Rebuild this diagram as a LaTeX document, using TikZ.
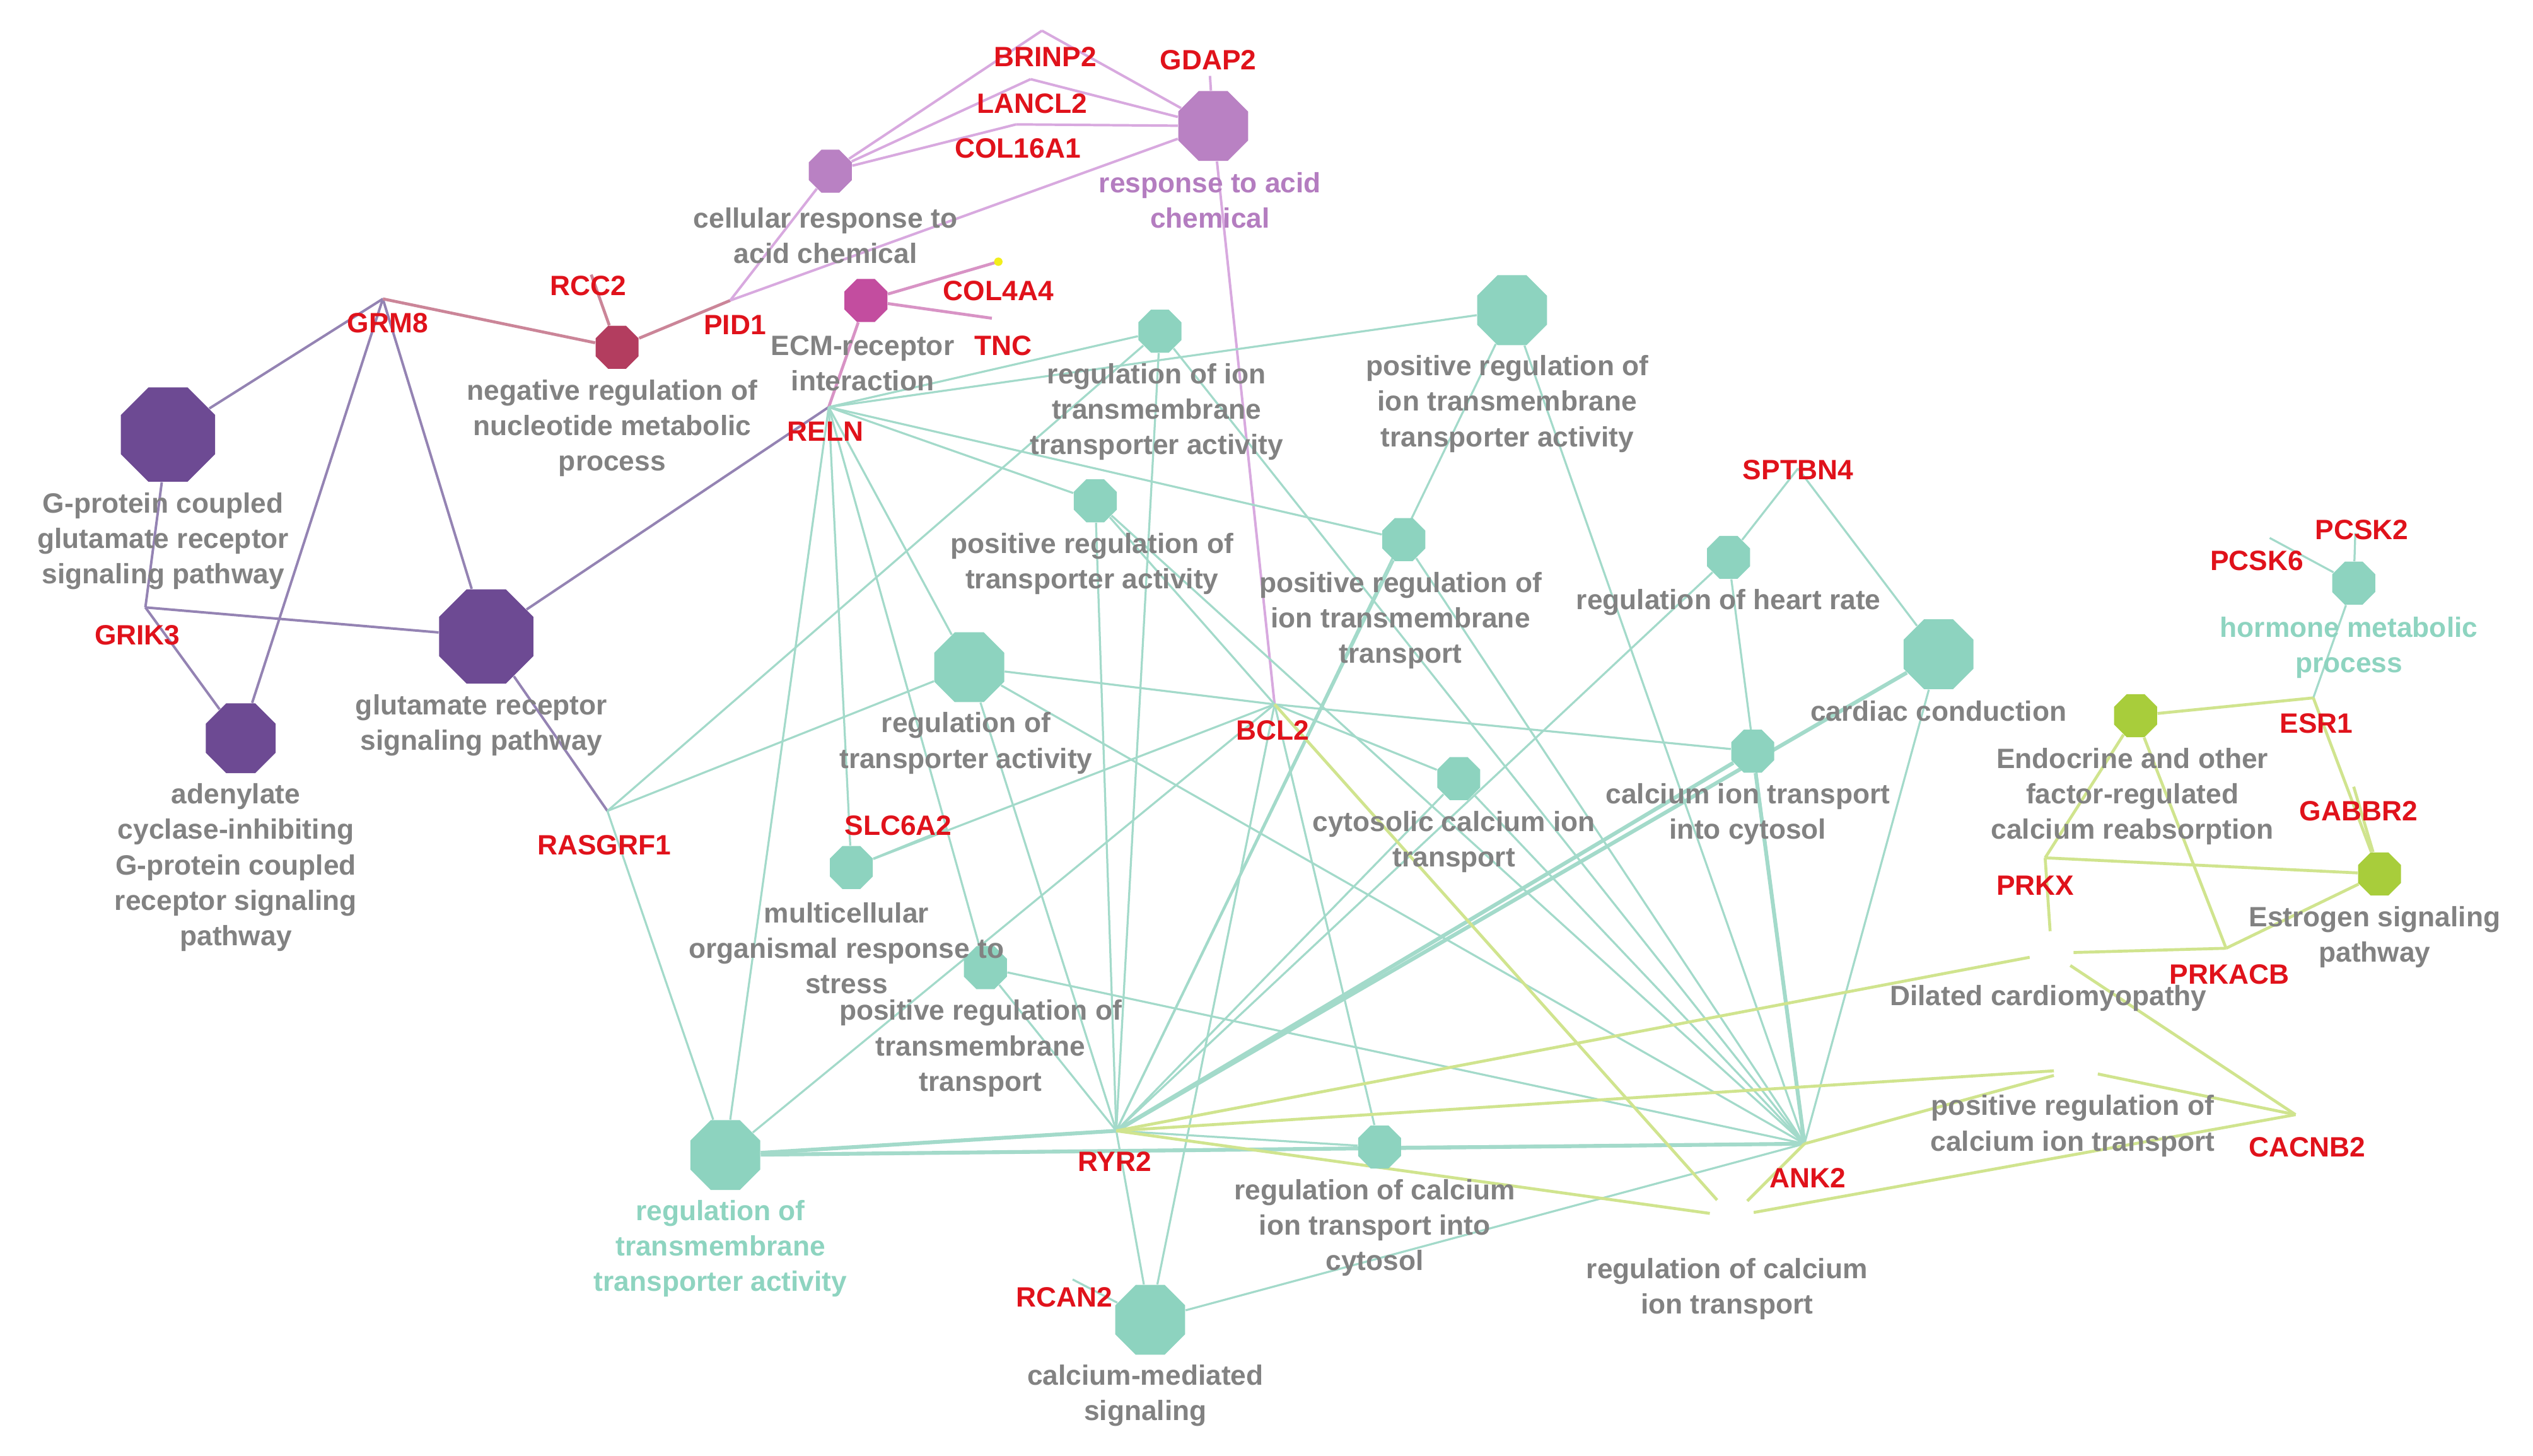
\documentclass[tikz,border=0pt]{standalone}
\usepackage{fontspec}
\setmainfont{Liberation Sans}
\usetikzlibrary{shapes.geometric,backgrounds}
\definecolor{cPurple}{HTML}{6D4A93}
\definecolor{cLav}{HTML}{B981C3}
\definecolor{cRose}{HTML}{B33D5F}
\definecolor{cMag}{HTML}{C34D9F}
\definecolor{cTeal}{HTML}{8DD3BF}
\definecolor{cYG}{HTML}{A8CD3B}
\definecolor{cYel}{HTML}{F2EE1B}
\definecolor{eTeal}{HTML}{A3DACA}
\definecolor{ePurple}{HTML}{9483B3}
\definecolor{eLav}{HTML}{D8A9DF}
\definecolor{eRose}{HTML}{CB8598}
\definecolor{eMag}{HTML}{D893C5}
\definecolor{eYG}{HTML}{D0E48E}
\definecolor{tGray}{HTML}{828282}
\definecolor{tRed}{HTML}{E0121B}
\definecolor{tTeal}{HTML}{8ED4C0}
\definecolor{tPurp}{HTML}{B47DC0}
\tikzset{
  oct/.style={regular polygon, regular polygon sides=8, inner sep=0pt, draw=none},
  sm/.style={oct, minimum size=0.72cm},
  md/.style={oct, minimum size=1.17cm},
  lg/.style={oct, minimum size=1.58cm},
  lblfont/.style={font=\fontsize{12.3pt}{15.6pt}\selectfont\bfseries},
  tl/.style={lblfont, text=tGray, align=center, inner sep=0pt},
  gl/.style={lblfont, text=tRed, inner sep=0pt},
  eT/.style={draw=eTeal, line width=0.9pt},
  eTk/.style={draw=eTeal, line width=1.7pt},
  eP/.style={draw=ePurple, line width=1.1pt},
  eL/.style={draw=eLav, line width=1.1pt},
  eR/.style={draw=eRose, line width=1.3pt},
  eM/.style={draw=eMag, line width=1.3pt},
  eY/.style={draw=eYG, line width=1.3pt},
}
\begin{document}
\begin{tikzpicture}[x=0.025cm, y=-0.025cm]
\useasboundingbox (0,0) rectangle (1568,901);
% ---------- term nodes ----------
\node[lg, fill=cPurple] (gpcr) at (104,269) {};
\node[lg, fill=cPurple] (glut) at (301,394) {};
\node[md, fill=cPurple] (aden) at (149,457) {};
\node[sm, fill=cRose] (negreg) at (382,215) {};
\node[sm, fill=cLav] (cell) at (514,106) {};
\node[md, fill=cLav] (resp) at (751,78) {};
\node[sm, fill=cMag] (ecm) at (536,186) {};
\node[sm, fill=cTeal] (t1) at (718,205) {};
\node[md, fill=cTeal] (t2) at (936,192) {};
\node[sm, fill=cTeal] (t3) at (678,310) {};
\node[sm, fill=cTeal] (t4) at (869,334) {};
\node[sm, fill=cTeal] (t5) at (1070,345) {};
\node[md, fill=cTeal] (t6) at (1200,405) {};
\node[md, fill=cTeal] (t7) at (600,413) {};
\node[sm, fill=cTeal] (t8) at (903,482) {};
\node[sm, fill=cTeal] (t9) at (1085,465) {};
\node[sm, fill=cTeal] (t10) at (527,537) {};
\node[sm, fill=cTeal] (t11) at (610,599) {};
\node[md, fill=cTeal] (t12) at (449,715) {};
\node[sm, fill=cTeal] (t13) at (854,710) {};
\node[md, fill=cTeal] (t14) at (712,817) {};
\node[sm, fill=cTeal] (t15) at (1457,361) {};
\node[sm, fill=cYG] (y1) at (1322,443) {};
\node[sm, fill=cYG] (y2) at (1473,541) {};
\node[sm, fill=white] (y3) at (1270,590) {};
\node[sm, fill=white] (y4) at (1285,662) {};
\node[sm, fill=white] (y5) at (1072,753) {};
% ---------- gene points ----------
\coordinate (brinp2) at (645,19);
\coordinate (lancl2) at (638,49);
\coordinate (col16a1) at (629,77);
\coordinate (gdap2) at (749,47);
\coordinate (rcc2) at (366,170);
\coordinate (pid1) at (452,186);
\coordinate (grm8) at (237,185);
\coordinate (col4a4) at (618,162);
\coordinate (tnc) at (614,197);
\coordinate (reln) at (513,252);
\coordinate (grik3) at (90,376);
\coordinate (rasgrf1) at (376,502);
\coordinate (bcl2) at (789,436);
\coordinate (slc6a2) at (586,513);
\coordinate (sptbn4) at (1113,290);
\coordinate (pcsk2) at (1458,330);
\coordinate (pcsk6) at (1405,333);
\coordinate (esr1) at (1432,432);
\coordinate (gabbr2) at (1457,487);
\coordinate (prkx) at (1266,531);
\coordinate (prkacb) at (1378,587);
\coordinate (cacnb2) at (1421,690);
\coordinate (ank2) at (1117,708);
\coordinate (ryr2) at (691,700);
\coordinate (rcan2) at (664,792);
\node[circle, fill=cYel, inner sep=0pt, minimum size=0.13cm] (col4a4dot) at (col4a4) {};
% ---------- edges ----------
\begin{pgfonlayer}{background}
\fill[white] (0,0) rectangle (1568,901);
% purple
\foreach \g/\t in {grm8/gpcr, grm8/glut, grm8/aden, grik3/gpcr, grik3/glut, grik3/aden, reln/glut, rasgrf1/glut}
  \draw[eP] (\g) -- (\t);
% rose
\foreach \g in {grm8, rcc2, pid1} \draw[eR] (\g) -- (negreg);
% lavender
\foreach \g/\t in {brinp2/cell, brinp2/resp, lancl2/cell, lancl2/resp, col16a1/cell, col16a1/resp, gdap2/resp, pid1/cell, pid1/resp, bcl2/resp}
  \draw[eL] (\g) -- (\t);
% magenta
\foreach \g in {col4a4, tnc, reln} \draw[eM] (\g) -- (ecm);
% teal
\foreach \t in {t1,t2,t3,t4,t7,t10,t11,t12} \draw[eT] (reln) -- (\t);
\foreach \t in {t1,t7,t12} \draw[eT] (rasgrf1) -- (\t);
\foreach \t in {t3,t7,t8,t9,t10,t12,t13,t14} \draw[eT] (bcl2) -- (\t);
\foreach \t in {t1,t2,t3,t4,t5,t7,t8,t11,t13,t14} \draw[eT] (ryr2) -- (\t);
\foreach \t in {t6,t9,t12} \draw[eTk] (ryr2) -- (\t);
\foreach \t in {t1,t2,t3,t4,t5,t6,t7,t8,t11,t13,t14} \draw[eT] (ank2) -- (\t);
\foreach \t in {t9,t12} \draw[eTk] (ank2) -- (\t);
\draw[eT] (slc6a2) -- (t10);
\draw[eT] (sptbn4) -- (t5);
\draw[eT] (sptbn4) -- (t6);
\draw[eT] (rcan2) -- (t14);
\foreach \g in {pcsk2, pcsk6, esr1} \draw[eT] (\g) -- (t15);
% yellow-green
\foreach \g/\t in {esr1/y1, esr1/y2, gabbr2/y2, prkx/y1, prkx/y2, prkx/y3, prkacb/y1, prkacb/y2, prkacb/y3, ryr2/y3, ryr2/y4, ryr2/y5, bcl2/y5, ank2/y4, ank2/y5, cacnb2/y3, cacnb2/y4, cacnb2/y5}
  \draw[eY] (\g) -- (\t);
\end{pgfonlayer}
% ---------- term labels ----------
\node[tl] (lgpcr) at (101,335) {G-protein coupled\\glutamate receptor\\signaling pathway};
\node[tl] (lglut) at (298,449) {glutamate receptor\\signaling pathway};
\node[tl] (laden) at (146,537) {adenylate\\cyclase-inhibiting\\G-protein coupled\\receptor signaling\\pathway};
\node[tl] (lnegreg) at (379,265) {negative regulation of\\nucleotide metabolic\\process};
\node[tl] (lcell) at (511,146) {cellular response to\\acid chemical};
\node[tl, text=tPurp] (lresp) at (749,124) {response to acid\\chemical};
\node[tl] (lecm) at (534,225) {ECM-receptor\\interaction};
\node[tl] (lt1) at (716,255) {regulation of ion\\transmembrane\\transporter activity};
\node[tl] (lt2) at (933,250) {positive regulation of\\ion transmembrane\\transporter activity};
\node[tl] (lt3) at (676,349) {positive regulation of\\transporter activity};
\node[tl] (lt4) at (867,384) {positive regulation of\\ion transmembrane\\transport};
\node[tl] (lt5) at (1070,373) {regulation of heart rate};
\node[tl] (lt6) at (1200,440) {cardiac conduction};
\node[tl] (lt7) at (598,460) {regulation of\\transporter activity};
\node[tl] (lt8) at (900,521) {cytosolic calcium ion\\transport};
\node[tl] (lt9) at (1082,504) {calcium ion transport\\into cytosol};
\node[tl] (lt10) at (524,587) {multicellular\\organismal response to\\stress};
\node[tl] (lt11) at (607,649) {positive regulation of\\transmembrane\\transport};
\node[tl, text=tTeal] (lt12) at (446,773) {regulation of\\transmembrane\\transporter activity};
\node[tl] (lt13) at (851,760) {regulation of calcium\\ion transport into\\cytosol};
\node[tl] (lt14) at (709,864) {calcium-mediated\\signaling};
\node[tl, text=tTeal] (lt15) at (1454,401) {hormone metabolic\\process};
\node[tl] (ly1) at (1320,493) {Endocrine and other\\factor-regulated\\calcium reabsorption};
\node[tl] (ly2) at (1470,580) {Estrogen signaling\\pathway};
\node[tl] (ly3) at (1268,618) {Dilated cardiomyopathy};
\node[tl] (ly4) at (1283,697) {positive regulation of\\calcium ion transport};
\node[tl] (ly5) at (1069,798) {regulation of calcium\\ion transport};
% ---------- gene labels ----------
\node[gl] (lbrinp2) at (647,35) {BRINP2};
\node[gl] (llancl2) at (639,64) {LANCL2};
\node[gl] (lcol16a1) at (630,92) {COL16A1};
\node[gl] (lgdap2) at (748,37) {GDAP2};
\node[gl] (lrcc2) at (364,177) {RCC2};
\node[gl] (lpid1) at (455,201) {PID1};
\node[gl] (lgrm8) at (240,200) {GRM8};
\node[gl] (lcol4a4) at (618,180) {COL4A4};
\node[gl] (ltnc) at (621,214) {TNC};
\node[gl] (lreln) at (511,267) {RELN};
\node[gl] (lgrik3) at (85,393) {GRIK3};
\node[gl] (lrasgrf1) at (374,523) {RASGRF1};
\node[gl] (lbcl2) at (788,452) {BCL2};
\node[gl] (lslc6a2) at (556,511) {SLC6A2};
\node[gl] (lsptbn4) at (1113,291) {SPTBN4};
\node[gl] (lpcsk2) at (1462,328) {PCSK2};
\node[gl] (lpcsk6) at (1397,347) {PCSK6};
\node[gl] (lesr1) at (1434,448) {ESR1};
\node[gl] (lgabbr2) at (1460,502) {GABBR2};
\node[gl] (lprkx) at (1260,548) {PRKX};
\node[gl] (lprkacb) at (1380,603) {PRKACB};
\node[gl] (lcacnb2) at (1428,710) {CACNB2};
\node[gl] (lank2) at (1119,729) {ANK2};
\node[gl] (lryr2) at (690,719) {RYR2};
\node[gl] (lrcan2) at (659,803) {RCAN2};
\end{tikzpicture}
\end{document}
